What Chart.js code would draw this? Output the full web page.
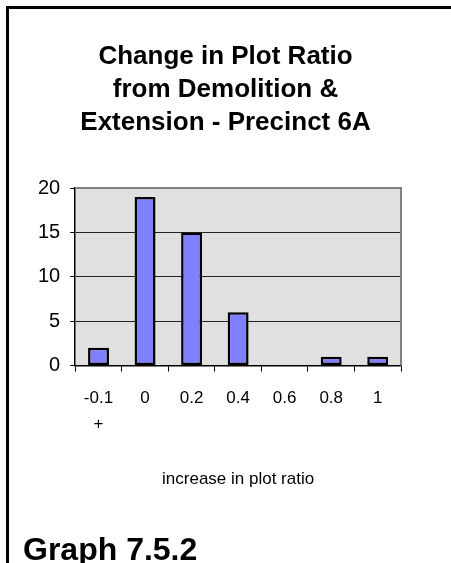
<!DOCTYPE html>
<html>
<head>
<meta charset="utf-8">
<script src="https://cdn.jsdelivr.net/npm/chart.js@4.4.1/dist/chart.umd.min.js"></script>
<style>
  html, body { margin: 0; padding: 0; background: #fff; }
  #wrap { position: relative; width: 451px; height: 563px; overflow: hidden; }
  #frame {
    position: absolute; left: 6px; top: 6px; right: -10px; bottom: -10px;
    border-left: 3px solid #000; border-top: 3px solid #000;
  }
  #chartBox { position: absolute; left: 0; top: 0; width: 451px; height: 563px; }
  #caption {
    position: absolute; left: 23px; top: 531px;
    font: bold 32px "Liberation Sans", Arial, sans-serif; color: #000;
  }
</style>
</head>
<body>
<div id="wrap">
  <div id="frame"></div>
  <div id="chartBox"><canvas id="chart"></canvas></div>
  <div id="caption">Graph 7.5.2</div>
</div>
<script>
// valores
const categorias = [["-0.1", "+"], "0", "0.2", "0.4", "0.6", "0.8", "1"];
const quantidades = [2, 19, 15, 6, 0, 1, 1];
const tituloLinhas = ["Change in Plot Ratio", "from Demolition &", "Extension - Precinct 6A"];
const tituloEixoX = "increase in plot ratio";

const FONTE = '"Liberation Sans", Arial, sans-serif';

// fundo cinza da área do gráfico + borda cinza em cima e à direita
const fundoArea = {
  id: "fundoArea",
  beforeDraw(chart) {
    const { ctx, chartArea: a } = chart;
    ctx.save();
    ctx.fillStyle = "#e0e0e0";
    ctx.fillRect(a.left, a.top, a.right - a.left, a.bottom - a.top);
    ctx.restore();
  },
  afterDatasetsDraw(chart) {
    const { ctx, chartArea: a } = chart;
    ctx.save();
    ctx.strokeStyle = "#808080";
    ctx.lineWidth = 2;
    ctx.beginPath();
    ctx.moveTo(a.left, a.top);
    ctx.lineTo(a.right, a.top);
    ctx.lineTo(a.right, a.bottom);
    ctx.stroke();
    ctx.restore();
  },
};

const ctx = document.getElementById("chart").getContext("2d");
new Chart(ctx, {
  type: "bar",
  data: {
    labels: categorias,
    datasets: [{
      data: quantidades,
      backgroundColor: "#8080ff",
      borderColor: "#000",
      borderWidth: 2.5,
      borderSkipped: false,
      categoryPercentage: 1,
      barPercentage: 0.45,
    }],
  },
  options: {
    responsive: true,
    maintainAspectRatio: false,
    animation: false,
    layout: { padding: { left: 28, right: 28, top: 0, bottom: 73 } },
    plugins: {
      legend: { display: false },
      tooltip: { enabled: false },
      title: {
        display: true,
        text: tituloLinhas,
        color: "#000",
        font: { family: FONTE, size: 26, weight: "bold", lineHeight: 1.27 },
        padding: { top: 40, bottom: 49 },
      },
    },
    scales: {
      x: {
        offset: true,
        grid: {
          offset: true,
          drawOnChartArea: false,
          drawTicks: true,
          tickLength: 6,
          tickColor: "#000",
          tickWidth: 1,
        },
        border: { display: true, color: "#000", width: 1.5 },
        ticks: {
          color: "#000",
          font: { family: FONTE, size: 17, lineHeight: 1.53 },
          padding: 14,
          maxRotation: 0,
          autoSkip: false,
        },
        title: {
          display: true,
          text: tituloEixoX,
          color: "#000",
          font: { family: FONTE, size: 17 },
          padding: { top: 18, bottom: 0 },
        },
      },
      y: {
        min: 0,
        max: 20,
        grid: {
          color: (c) => (c.tick && c.tick.value === 20 ? "rgba(0,0,0,0)" : "#222"),
          lineWidth: 1,
          drawTicks: true,
          tickLength: 5,
          tickColor: "#000",
        },
        border: { display: true, color: "#000", width: 1.5 },
        ticks: {
          stepSize: 5,
          color: "#000",
          font: { family: FONTE, size: 20 },
          padding: 10,
        },
      },
      // eixo vazio à direita só para reservar espaço e centralizar o título
      espaco: {
        position: "right",
        grid: { display: false },
        border: { display: false },
        ticks: { display: false },
        afterFit: (scale) => { scale.width = 22; },
      },
    },
  },
  plugins: [fundoArea],
});
</script>
</body>
</html>
